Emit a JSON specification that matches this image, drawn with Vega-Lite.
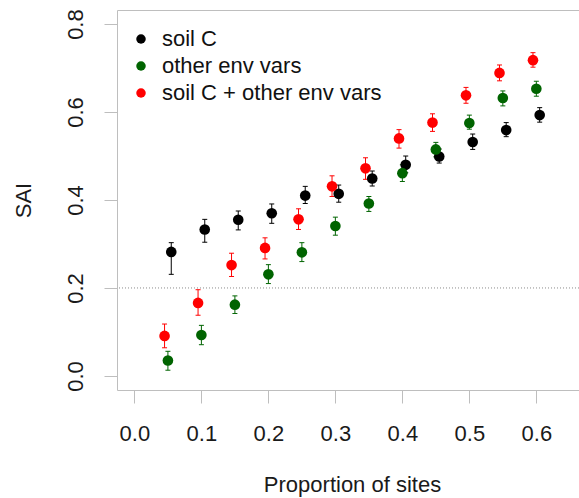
{
  "$schema": "https://vega.github.io/schema/vega-lite/v6.json",
  "autosize": {"type": "none"},
  "padding": {"left": 117, "top": 10, "right": 0, "bottom": 108},
  "width": 462,
  "height": 380,
  "background": "white",
  "config": {
    "font": "Liberation Sans",
    "view": {"stroke": null},
    "axis": {
      "labelFont": "Liberation Sans",
      "titleFont": "Liberation Sans",
      "labelFontSize": 22,
      "titleFontSize": 22,
      "titleFontWeight": "normal",
      "labelColor": "#1a1a1a",
      "titleColor": "#1a1a1a",
      "tickColor": "#bebebe",
      "domainColor": "#bebebe",
      "tickSize": 13,
      "grid": false,
      "labelFlush": false,
      "labelOverlap": false
    },
    "legend": {
      "labelFont": "Liberation Sans",
      "labelFontSize": 22,
      "labelColor": "#111111",
      "labelLimit": 0
    }
  },
  "datasets": {
    "pts": [
      {"series": "soil C", "x": 0.055, "y": 0.282, "lo": 0.231, "hi": 0.303},
      {"series": "soil C", "x": 0.105, "y": 0.333, "lo": 0.304, "hi": 0.356},
      {"series": "soil C", "x": 0.155, "y": 0.355, "lo": 0.332, "hi": 0.375},
      {"series": "soil C", "x": 0.205, "y": 0.370, "lo": 0.347, "hi": 0.391},
      {"series": "soil C", "x": 0.255, "y": 0.410, "lo": 0.392, "hi": 0.431},
      {"series": "soil C", "x": 0.305, "y": 0.414, "lo": 0.395, "hi": 0.434},
      {"series": "soil C", "x": 0.355, "y": 0.449, "lo": 0.432, "hi": 0.466},
      {"series": "soil C", "x": 0.405, "y": 0.480, "lo": 0.462, "hi": 0.500},
      {"series": "soil C", "x": 0.455, "y": 0.499, "lo": 0.484, "hi": 0.516},
      {"series": "soil C", "x": 0.505, "y": 0.532, "lo": 0.515, "hi": 0.550},
      {"series": "soil C", "x": 0.555, "y": 0.559, "lo": 0.544, "hi": 0.576},
      {"series": "soil C", "x": 0.605, "y": 0.593, "lo": 0.577, "hi": 0.610},
      {"series": "other env vars", "x": 0.05, "y": 0.035, "lo": 0.013, "hi": 0.056},
      {"series": "other env vars", "x": 0.10, "y": 0.093, "lo": 0.071, "hi": 0.115},
      {"series": "other env vars", "x": 0.15, "y": 0.162, "lo": 0.142, "hi": 0.182},
      {"series": "other env vars", "x": 0.20, "y": 0.231, "lo": 0.210, "hi": 0.253},
      {"series": "other env vars", "x": 0.25, "y": 0.281, "lo": 0.260, "hi": 0.303},
      {"series": "other env vars", "x": 0.30, "y": 0.341, "lo": 0.320, "hi": 0.361},
      {"series": "other env vars", "x": 0.35, "y": 0.392, "lo": 0.374, "hi": 0.408},
      {"series": "other env vars", "x": 0.40, "y": 0.461, "lo": 0.442, "hi": 0.480},
      {"series": "other env vars", "x": 0.45, "y": 0.515, "lo": 0.498, "hi": 0.531},
      {"series": "other env vars", "x": 0.50, "y": 0.575, "lo": 0.561, "hi": 0.593},
      {"series": "other env vars", "x": 0.55, "y": 0.632, "lo": 0.614, "hi": 0.648},
      {"series": "other env vars", "x": 0.60, "y": 0.653, "lo": 0.636, "hi": 0.670},
      {"series": "soil C + other env vars", "x": 0.045, "y": 0.091, "lo": 0.064, "hi": 0.118},
      {"series": "soil C + other env vars", "x": 0.095, "y": 0.166, "lo": 0.138, "hi": 0.196},
      {"series": "soil C + other env vars", "x": 0.145, "y": 0.252, "lo": 0.226, "hi": 0.279},
      {"series": "soil C + other env vars", "x": 0.195, "y": 0.291, "lo": 0.266, "hi": 0.314},
      {"series": "soil C + other env vars", "x": 0.245, "y": 0.356, "lo": 0.333, "hi": 0.380},
      {"series": "soil C + other env vars", "x": 0.295, "y": 0.431, "lo": 0.408, "hi": 0.455},
      {"series": "soil C + other env vars", "x": 0.345, "y": 0.472, "lo": 0.447, "hi": 0.496},
      {"series": "soil C + other env vars", "x": 0.395, "y": 0.540, "lo": 0.518, "hi": 0.560},
      {"series": "soil C + other env vars", "x": 0.445, "y": 0.576, "lo": 0.556, "hi": 0.596},
      {"series": "soil C + other env vars", "x": 0.495, "y": 0.638, "lo": 0.620, "hi": 0.656},
      {"series": "soil C + other env vars", "x": 0.545, "y": 0.689, "lo": 0.671, "hi": 0.707},
      {"series": "soil C + other env vars", "x": 0.595, "y": 0.718, "lo": 0.702, "hi": 0.735}
    ],
    "ref": [{"level": 0.2}]
  },
  "resolve": {"axis": {"x": "independent"}},
  "layer": [
    {
      "data": {"name": "ref"},
      "mark": {"type": "rule", "color": "#8c8c8c", "strokeDash": [1, 2], "strokeWidth": 1},
      "encoding": {
        "y": {"field": "level", "type": "quantitative", "scale": {"domain": [-0.032, 0.832], "nice": false, "zero": false},
          "axis": {
            "values": [0, 0.2, 0.4, 0.6, 0.8],
            "format": ".1f",
            "labelAngle": 270,
            "labelAlign": "center",
            "labelBaseline": "alphabetic",
            "labelPadding": 22,
            "title": "SAI",
            "titleAngle": 270,
            "titleX": -94,
            "titleY": 190,
            "titleAlign": "center",
            "titleBaseline": "middle"
          }
        }
      }
    },
    {
      "data": {"name": "pts"},
      "mark": {"type": "rule", "strokeWidth": 1, "opacity": 1},
      "encoding": {
        "x": {"field": "x", "type": "quantitative",
          "axis": {"orient": "top", "labels": false, "ticks": false, "title": null, "domain": true}},
        "y": {"field": "lo", "type": "quantitative"},
        "y2": {"field": "hi"},
        "color": {"field": "series", "type": "nominal"}
      }
    },
    {
      "data": {"name": "pts"},
      "mark": {"type": "tick", "orient": "horizontal", "size": 5, "thickness": 1, "opacity": 1},
      "encoding": {
        "x": {"field": "x", "type": "quantitative", "axis": null},
        "y": {"field": "lo", "type": "quantitative"},
        "color": {"field": "series", "type": "nominal"}
      }
    },
    {
      "data": {"name": "pts"},
      "mark": {"type": "tick", "orient": "horizontal", "size": 5, "thickness": 1, "opacity": 1},
      "encoding": {
        "x": {"field": "x", "type": "quantitative", "axis": null},
        "y": {"field": "hi", "type": "quantitative"},
        "color": {"field": "series", "type": "nominal"}
      }
    },
    {
      "data": {"name": "pts"},
      "mark": {"type": "circle", "size": 113, "opacity": 1},
      "encoding": {
        "x": {"field": "x", "type": "quantitative",
          "scale": {"domain": [-0.026, 0.6637], "nice": false, "zero": false},
          "axis": {
            "values": [0, 0.1, 0.2, 0.3, 0.4, 0.5, 0.6],
            "format": ".1f",
            "labelPadding": 20,
            "labelBaseline": "top",
            "title": "Proportion of sites",
            "titleX": 235,
            "titleY": 101,
            "titleAlign": "center",
            "titleBaseline": "alphabetic"
          }
        },
        "y": {"field": "y", "type": "quantitative"},
        "color": {"field": "series", "type": "nominal",
          "scale": {"domain": ["soil C", "other env vars", "soil C + other env vars"], "range": ["#000000", "#006400", "#ff0000"]},
          "legend": {
            "orient": "none",
            "legendX": 13,
            "legendY": 18,
            "title": null,
            "symbolType": "circle",
            "symbolSize": 90,
            "symbolStrokeWidth": 0,
            "symbolOpacity": 1,
            "labelOffset": 10,
            "rowPadding": 5,
            "padding": 0
          }
        }
      }
    }
  ]
}
